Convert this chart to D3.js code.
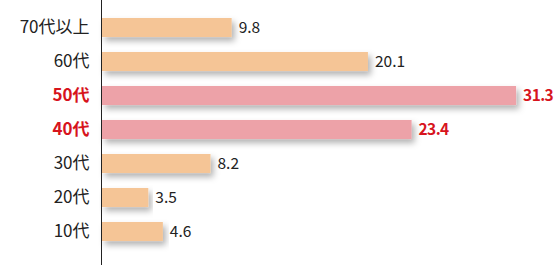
<!DOCTYPE html>
<html>
<head>
<meta charset="utf-8">
<script src="https://cdn.jsdelivr.net/npm/d3@7"></script>
<style>
	body {margin:0; background:#fff;}
	svg {display:block;}
</style>
</head>
<body>
<div id="chart"></div>
<script>
// age group bar chart

var categories = ['70代以上', '60代', '50代', '40代', '30代', '20代', '10代'];
var values = [9.8, 20.1, 31.3, 23.4, 8.2, 3.5, 4.6];
var highlight = ['50代', '40代'];

var width = 554, height = 265;
var x0 = 102;

var svg = d3.select('#chart').append('svg')
	.attr('width', width).attr('height', height);

// soft shadow under the bars
var defs = svg.append('defs');
var f = defs.append('filter').attr('id', 'shadow')
	.attr('x', '-5%').attr('y', '-30%').attr('width', '115%').attr('height', '190%');
f.append('feDropShadow')
	.attr('dx', 3).attr('dy', 4).attr('stdDeviation', 3)
	.attr('flood-color', '#000').attr('flood-opacity', 0.3);

var x_scale = d3.scaleLinear().domain([0, 35]).range([x0, x0 + 13.23*35]);
var y_scale = d3.scaleBand().domain(categories)
	.range([10.5, 248.5]).paddingInner(0.44).paddingOuter(0.22);

var data = categories.map(function (c, i) {return {cat: c, val: values[i]};});
function isHi(d) {return highlight.indexOf(d.cat) >= 0;}

var bars = svg.append('g').selectAll('rect').data(data).enter().append('rect')
	.attr('x', x_scale(0))
	.attr('y', function (d) {return y_scale(d.cat);})
	.attr('width', function (d) {return x_scale(d.val) - x_scale(0);})
	.attr('height', y_scale.bandwidth())
	.attr('fill', function (d) {return isHi(d) ? '#eda2a8' : '#f5c596';})
	.attr('filter', 'url(#shadow)');

// value labels
svg.append('g').selectAll('text').data(data).enter().append('text')
	.attr('x', function (d) {return x_scale(d.val) + 7;})
	.attr('y', function (d) {return y_scale(d.cat) + y_scale.bandwidth()/2;})
	.attr('dy', '0.36em')
	.attr('font-family', '"Noto Sans CJK JP", "Noto Sans", sans-serif')
	.attr('font-size', 15.5)
	.attr('letter-spacing', function (d) {return isHi(d) ? -0.6 : 0;})
	.attr('font-weight', function (d) {return isHi(d) ? 'bold' : 'normal';})
	.attr('fill', function (d) {return isHi(d) ? '#d7141d' : '#222';})
	.text(function (d) {return d.val.toFixed(1);});

// category axis
var y_axis = d3.axisLeft(y_scale).tickSize(0).tickPadding(12);
var ax = svg.append('g').attr('transform', 'translate(101.5,0)').call(y_axis);
ax.select('.domain').remove();
ax.append('line').attr('x1', 0).attr('x2', 0).attr('y1', 0).attr('y2', height)
	.attr('stroke', '#222').attr('stroke-width', 1);
ax.selectAll('.tick text')
	.attr('font-family', '"Noto Sans CJK JP", "Noto Sans", sans-serif')
	.attr('font-size', 17)
	.attr('font-weight', function (d) {return highlight.indexOf(d) >= 0 ? 'bold' : 'normal';})
	.attr('fill', function (d) {return highlight.indexOf(d) >= 0 ? '#d7141d' : '#222';});
</script>
</body>
</html>
